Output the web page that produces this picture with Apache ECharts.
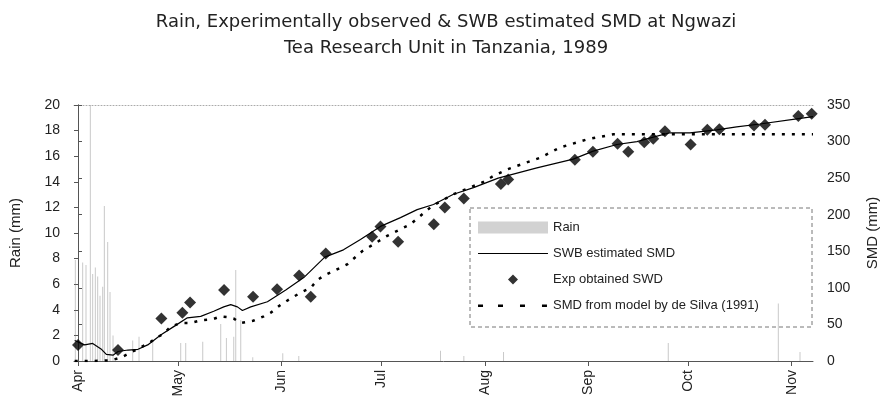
<!DOCTYPE html>
<html>
<head>
<meta charset="utf-8">
<script src="https://cdn.jsdelivr.net/npm/echarts@6/dist/echarts.min.js"></script>
<style>
html,body{margin:0;padding:0;background:#fff;}
#c{width:892px;height:415px;}
</style>
</head>
<body>
<div id="c"></div>
<script>
// x values are days since 1 April 1989
const monthTicks = [0, 30, 61, 91, 122, 153, 183, 214];
const monthLabels = ['Apr', 'May', 'Jun', 'Jul', 'Aug', 'Sep', 'Oct', 'Nov'];

const rain = [[-0.8,7.9],[1.4,7.7],[2.4,7.5],[3.7,20],[4.4,6.8],[5.2,7.3],[5.9,6.6],[6.6,5.1],[7.4,5.8],[7.9,12.1],[8.9,9.3],[9.6,5.4],[10.5,2.0],[16.4,1.6],[18.3,1.9],[22.4,1.5],[30.8,1.4],[32.3,1.4],[37.4,1.5],[42.8,2.9],[44.5,1.8],[46.7,1.9],[47.3,7.1],[48.8,3.2],[52.4,0.3],[61.4,0.6],[66.2,0.4],[108.7,0.8],[115.7,0.4],[127.6,0.7],[177,1.4],[210,4.5],[216.5,0.7]];

const swbSMD = [[-1,28],[2,22],[4.4,24],[6.9,16.5],[8.5,9],[10.5,8],[12,13],[15,15],[18,16],[20.9,22],[24.9,36],[28.7,47],[32.8,59],[36.8,61],[40.7,68],[43.7,74],[45.8,77],[47.8,74],[49.3,69],[51.8,74],[56.8,81],[62.3,97],[67.7,114],[74,142],[79.6,152],[84.7,166],[90.7,184],[96.7,196],[101.7,207],[106.6,214],[112.6,228],[118.6,237],[126,250],[137.6,264],[148.5,276],[154.5,287],[161.6,296],[167.6,300],[172.5,306],[177.5,312],[183.5,312],[191.5,316],[197.5,320],[204.5,324],[215.5,331],[220.4,334]];

const expSWD = [[0,22],[12,15],[25,58],[31.3,66],[33.6,80],[43.8,97],[52.5,88],[59.7,98],[66.3,117],[69.8,88],[74.3,147],[88.2,170],[90.7,184],[96,163],[106.7,187],[110,210],[115.7,222],[126.8,242],[129,248],[149,275],[154.4,286],[161.8,297],[165,286],[169.8,299],[172.5,304],[176,314],[183.7,296],[188.7,316],[192.3,317],[202.7,322],[206,323],[216,335],[220,338]];

const deSilvaSMD = [[-1,0],[5,0],[10,1],[13,5],[16,12],[19,19],[21,24],[23.4,31],[25.8,38],[27.8,47],[30.8,52],[33.8,52],[37.3,56],[40.3,57],[42.8,61],[45,60],[46.7,58],[48.8,52],[52.5,55],[55.7,61],[57.8,66],[60.8,77],[64.3,87],[67,94],[69.8,100],[71.8,111],[74.3,118],[80.7,132],[85.2,150],[92.7,171],[99.7,187],[106.2,212],[112.6,228],[121.2,244],[124.6,253],[128.7,262],[138.6,278],[144.6,292],[152.6,303],[160.6,310],[220.4,310]];

const chart = echarts.init(document.getElementById('c'), null, {renderer: 'canvas'});
const FONT = 'Liberation Sans, Arial, sans-serif';
const TFONT = 'DejaVu Sans, sans-serif';
const txt = '#222';
const axisCol = '#555';
// legend icon shapes (corner specks fix the 70x12 box)
const box = 'M0,0h0.01v0.01h-0.01Z M70,12h0.01v0.01h-0.01Z ';
const iconSolid = 'path://' + box + 'M0,5.6H70V6.6H0Z';
const iconDash = 'path://' + box + 'M0,5H5V7.5H0Z M20,5H25V7.5H20Z M42,5H47V7.5H42Z M64,5H69V7.5H64Z';
const iconDiamond = 'path://' + box + 'M35,1L40,6L35,11L30,6Z';

chart.setOption({
  animation: false,
  backgroundColor: '#fff',
  title: {
    text: 'Rain, Experimentally observed & SWB estimated SMD at Ngwazi\nTea Research Unit in Tanzania, 1989',
    left: 'center',
    top: 4,
    textStyle: {fontFamily: TFONT, fontSize: 18, fontWeight: 'normal', color: txt, lineHeight: 26}
  },
  grid: {left: 73, right: 79, top: 105, bottom: 54},
  legend: {
    orient: 'vertical',
    left: 478,
    top: 221,
    padding: 0,
    itemWidth: 70,
    itemHeight: 12,
    itemGap: 13,
    textStyle: {fontFamily: FONT, fontSize: 13, color: txt},
    data: [
      {name: 'Rain', icon: 'rect', itemStyle: {color: '#d2d2d2'}},
      {name: 'SWB estimated SMD', icon: iconSolid},
      {name: 'Exp obtained SWD', icon: iconDiamond},
      {name: 'SMD from model by de Silva (1991)', icon: iconDash}
    ]
  },
  graphic: [{
    type: 'rect',
    shape: {x: 470, y: 208, width: 342, height: 119},
    style: {fill: 'rgba(255,255,255,0)', stroke: '#777', lineWidth: 1, lineDash: [4, 3]},
    silent: true
  }],
  xAxis: [{
    type: 'value',
    min: -1.2,
    max: 220.4,
    splitLine: {show: false},
    axisLine: {onZero: false, lineStyle: {color: axisCol}},
    axisTick: {show: true, customValues: monthTicks, length: 5, lineStyle: {color: axisCol}},
    axisLabel: {
      customValues: monthTicks,
      rotate: 90,
      margin: 9,
      fontFamily: FONT, fontSize: 14, color: txt,
      formatter: function (v) { const i = monthTicks.indexOf(v); return i >= 0 ? monthLabels[i] : ''; }
    }
  }, {
    type: 'value',
    position: 'top',
    min: -1.2,
    max: 220.4,
    splitLine: {show: false},
    axisLine: {show: true, onZero: false, lineStyle: {color: '#aaa', type: [1, 2]}},
    axisTick: {show: false},
    axisLabel: {show: false}
  }],
  yAxis: [{
    type: 'value',
    min: 0, max: 20, interval: 2,
    name: 'Rain (mm)',
    nameLocation: 'middle',
    nameGap: 51,
    nameTextStyle: {fontFamily: FONT, fontSize: 15, color: txt},
    splitLine: {show: false},
    axisLine: {show: true, lineStyle: {color: axisCol}},
    axisTick: {show: true, length: 4, lineStyle: {color: axisCol}},
    axisLabel: {fontFamily: FONT, fontSize: 14, color: txt, margin: 14}
  }, {
    type: 'value',
    min: 0, max: 350, interval: 50,
    name: 'SMD (mm)',
    nameLocation: 'middle',
    nameGap: 52,
    nameTextStyle: {fontFamily: FONT, fontSize: 15, color: txt},
    splitLine: {show: false},
    axisLine: {show: true, lineStyle: {color: axisCol}},
    axisTick: {show: true, length: 4, lineStyle: {color: axisCol}},
    axisLabel: {fontFamily: FONT, fontSize: 14, color: txt, margin: 14}
  }],
  series: [{
    name: 'Rain',
    type: 'bar',
    xAxisIndex: 0, yAxisIndex: 0,
    barWidth: 1,
    data: rain,
    itemStyle: {color: 'rgba(120,120,120,0.4)'},
    z: 1
  }, {
    name: 'SWB estimated SMD',
    type: 'line',
    xAxisIndex: 0, yAxisIndex: 1,
    data: swbSMD,
    showSymbol: false,
    symbol: 'none',
    lineStyle: {color: '#000', width: 1.2},
    itemStyle: {color: '#000'},
    z: 3
  }, {
    name: 'Exp obtained SWD',
    type: 'scatter',
    xAxisIndex: 0, yAxisIndex: 1,
    data: expSWD,
    symbol: 'diamond',
    symbolSize: 12,
    itemStyle: {color: '#000'},
    z: 4
  }, {
    name: 'SMD from model by de Silva (1991)',
    type: 'line',
    xAxisIndex: 0, yAxisIndex: 1,
    data: deSilvaSMD,
    showSymbol: false,
    symbol: 'none',
    lineStyle: {color: '#000', width: 2.5, type: [3, 7]},
    itemStyle: {color: '#000'},
    z: 2
  }]
});
</script>
</body>
</html>
